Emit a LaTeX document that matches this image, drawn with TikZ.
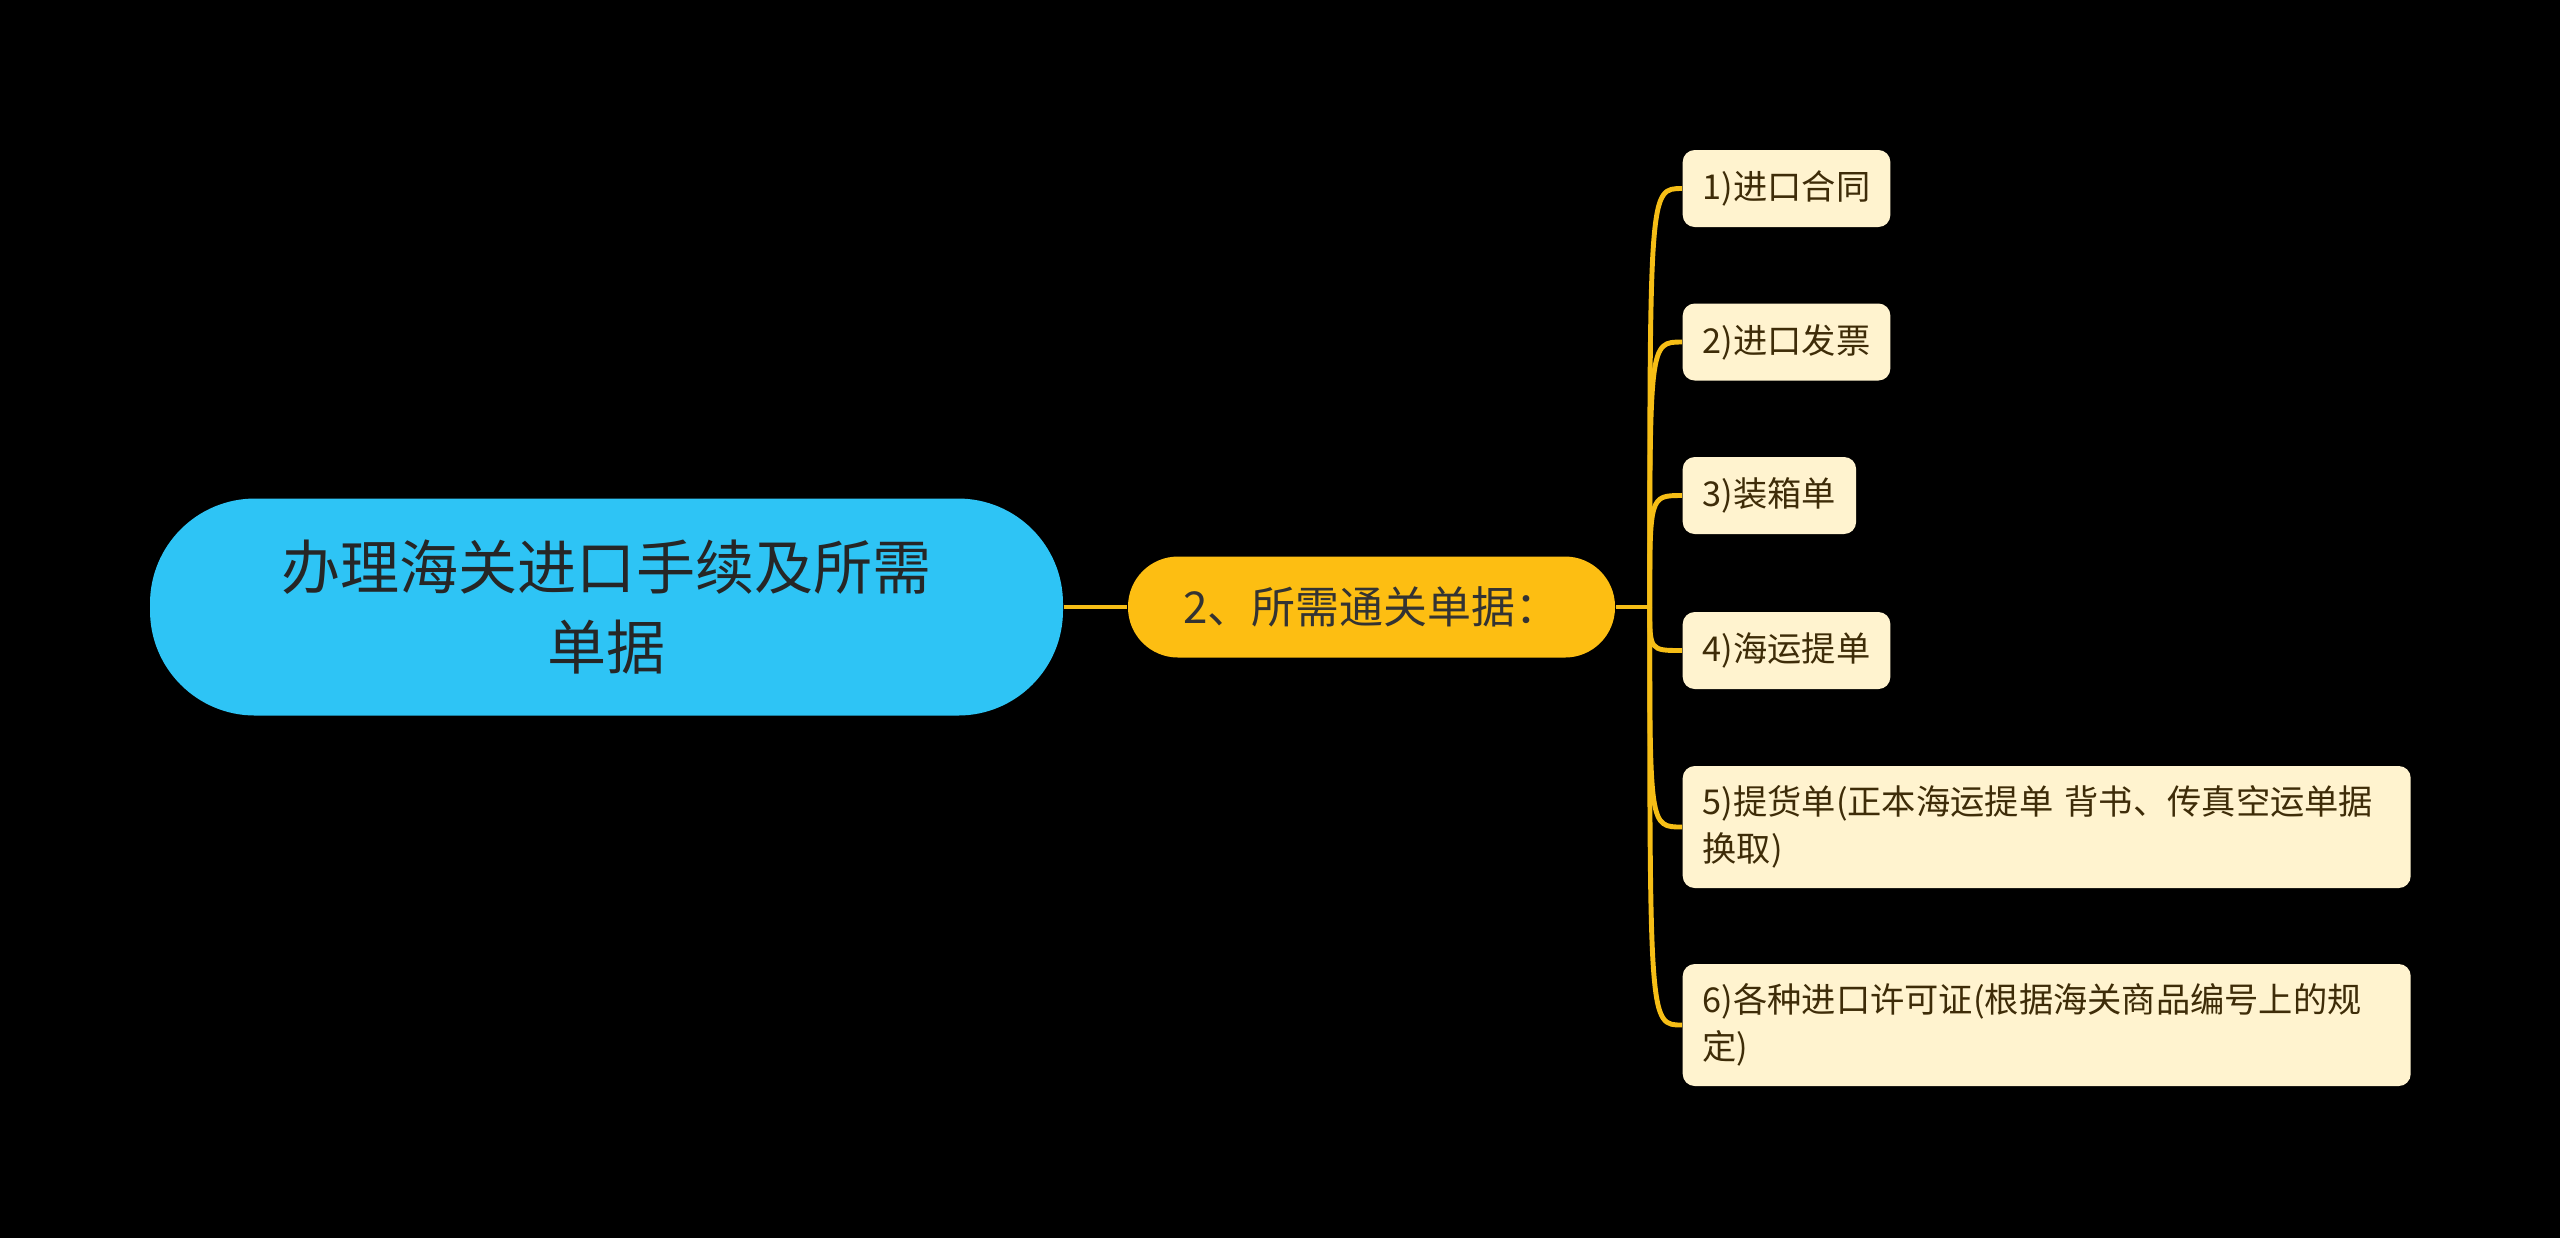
\documentclass[tikz,border=0pt]{standalone}
\usepackage{fontspec}
\setmainfont{Noto Sans CJK SC}
\usepackage{tikz}
\usetikzlibrary{positioning, calc}
\definecolor{rootcyan}{RGB}{46, 196, 245}
\definecolor{reqamber}{RGB}{253, 190, 18}
\definecolor{doccream}{RGB}{255, 243, 207}
\definecolor{doctext}{RGB}{62, 44, 8}
\definecolor{linkgold}{RGB}{246, 190, 22}

\begin{document}
\begin{tikzpicture}[
      rootbox/.style={fill=rootcyan, text=black!85, rounded corners=1.05cm, align=center,
                      minimum width=9.13cm, minimum height=2.17cm, font=\fontsize{16.8pt}{22.7pt}\selectfont},
      reqbox/.style ={fill=reqamber, text=black!80, rounded corners=0.5cm, align=center,
                      minimum width=4.87cm, minimum height=1.01cm, font=\fontsize{12.5pt}{15pt}\selectfont},
      docbox/.style ={fill=doccream, text=doctext, rounded corners=0.12cm, align=left, anchor=west,
                      inner xsep=0.2cm, minimum height=0.77cm, font=\fontsize{9.75pt}{13.4pt}\selectfont},
      longdoc/.style={docbox, text width=6.88cm, minimum height=1.22cm},
      link/.style   ={draw=linkgold, line width=1.4pt}]
    % --- background and page size ---
    \useasboundingbox (0,0) rectangle (25.6,-12.37);
    \fill[black] (-0.1,0.1) rectangle (25.7,-12.47);
    % --- LEFT: the main topic ---
    \node[rootbox] (root) at (6.065,-6.07) {办理海关进口手续及所需\\单据};
    % --- CENTRE: the one branch ---
    \node[reqbox] (req) at (13.715,-6.07) {2、所需通关单据：};
    \draw[link] (root.east) -- (req.west);
    % --- RIGHT: the documents that are needed ---
    \node[docbox]  (doc1) at (16.82,-1.885) {1)进口合同};
    \node[docbox]  (doc2) at (16.82,-3.42)  {2)进口发票};
    \node[docbox]  (doc3) at (16.82,-4.955) {3)装箱单};
    \node[docbox]  (doc4) at (16.82,-6.505) {4)海运提单};
    \node[longdoc] (doc5) at (16.82,-8.27)  {5)提货单(正本海运提单 背书、传真空运单据\\换取)};
    \node[longdoc] (doc6) at (16.82,-10.25) {6)各种进口许可证(根据海关商品编号上的规\\定)};
    \coordinate (hub) at ($(req.east)+(0.34,0)$);
    \draw[link] (req.east) -- (hub);
    \foreach \d in {doc1,doc2,doc3,doc4,doc5,doc6}
      \draw[link] (hub) .. controls (hub |- \d.west) .. (\d.west);
  \end{tikzpicture}
\end{document}
